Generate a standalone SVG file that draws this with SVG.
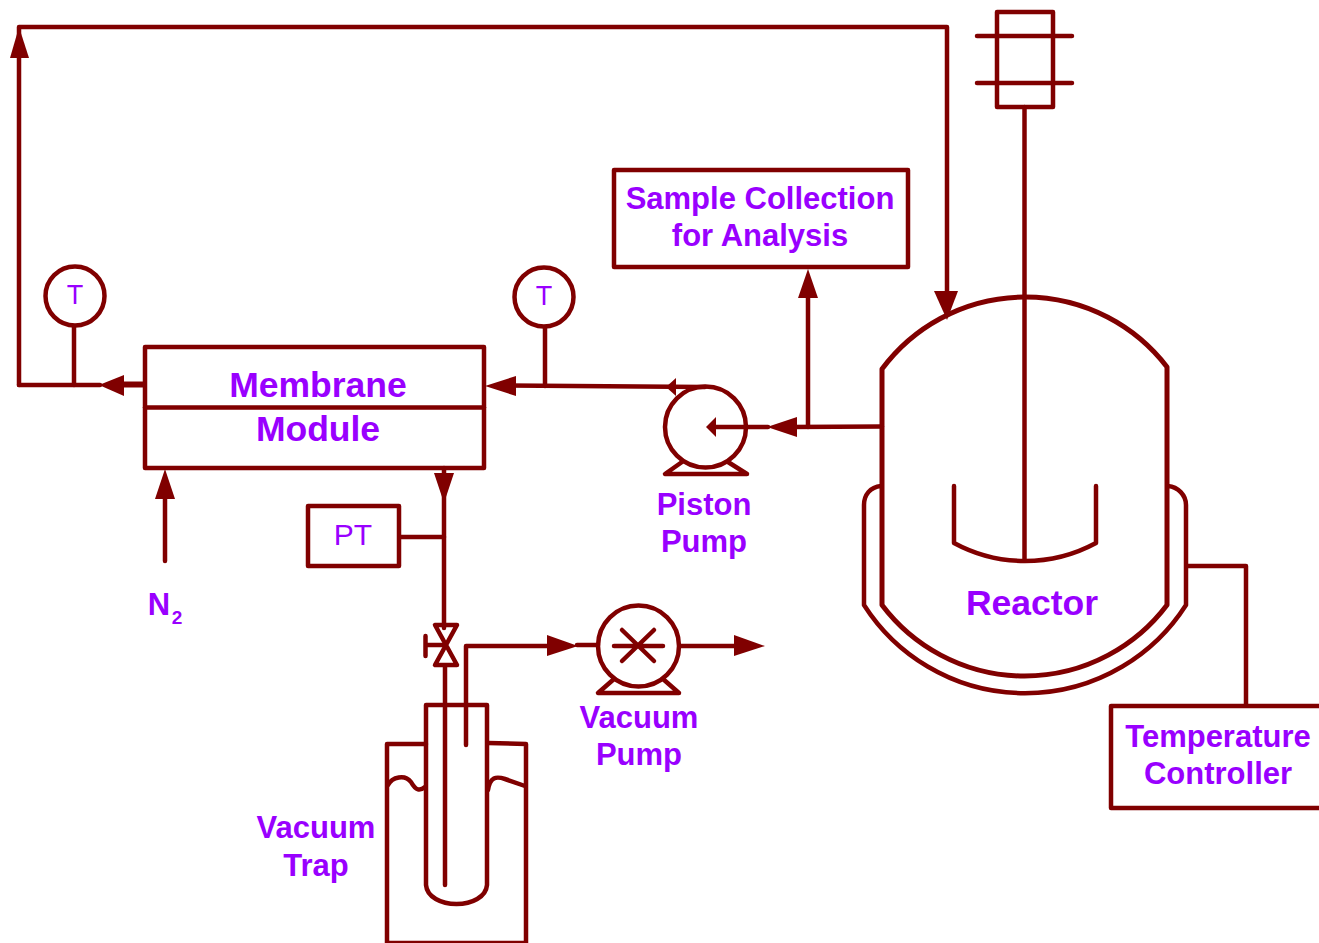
<svg xmlns="http://www.w3.org/2000/svg" width="1319" height="943" viewBox="0 0 1319 943">
<style>
.s{fill:none;stroke:#800000;stroke-width:4.5;stroke-linecap:round;stroke-linejoin:round}
.a{fill:#800000;stroke:none}
.l{font-family:"Liberation Sans",Arial,sans-serif;font-weight:bold;fill:#9900ff;font-size:31px;text-anchor:middle}
.m{font-size:35.500px}
.t{font-family:"Liberation Sans",Arial,sans-serif;fill:#9900ff;font-size:27px;text-anchor:middle}
</style>
<rect width="1319" height="943" fill="#fff"/>
<g id="connectors">
<path class="s" d="M19 385V27H947V300"/>
<path class="s" d="M19 385H100"/>
<path class="s" style="stroke-width:6;stroke-linecap:butt" d="M122 384.500H144"/>
<path class="s" d="M74 326V385"/>
<path class="s" d="M505 385.500L705 387"/>
<path class="s" d="M545 327V386"/>
<path class="s" d="M710 427H768M790 427L882 426.500"/>
<path class="s" d="M808 427V290"/>
<path class="s" d="M165 495V561"/>
<path class="s" d="M444 468V628M445 666V885"/>
<path class="s" d="M400 537H444"/>
<path class="s" d="M466 745V646H550"/>
<path class="s" d="M577 645H598M680 646H736"/>
<path class="s" d="M1187 566H1246V705"/>
<polygon class="a" points="10,58 29,58 19,27"/>
<polygon class="a" points="934,291 958,291 947,320"/>
<polygon class="a" points="99,385 124,375 124,396"/>
<polygon class="a" points="485,386 516,376 516,396"/>
<polygon class="a" points="666,387 676,378 676,396"/>
<polygon class="a" points="706,427 716,417 716,437"/>
<polygon class="a" points="767,427 797,417 797,437"/>
<polygon class="a" points="808,269 798,298 818,298"/>
<polygon class="a" points="165,469 155,499 175,499"/>
<polygon class="a" points="444,503 434,473 454,473"/>
<polygon class="a" points="578,646 547,635 547,656"/>
<polygon class="a" points="765,646 734,635 734,656"/>
</g>
<g id="t-left"><circle class="s" cx="75" cy="296" r="29.500"/><text class="t" x="75" y="304">T</text></g>
<g id="t-right"><circle class="s" cx="544" cy="297" r="29.500"/><text class="t" x="544" y="305">T</text></g>
<g id="membrane-module">
<rect class="s" x="145" y="347" width="339" height="121"/>
<path class="s" d="M145 407.500H484"/>
<text class="l m" x="318" y="397">Membrane</text>
<text class="l m" x="318" y="441">Module</text>
</g>
<g id="n2"><text class="l" x="159" y="615">N</text><text class="l" x="177" y="624" style="font-size:19px">2</text></g>
<g id="sample"><rect class="s" x="614" y="170" width="294" height="97"/>
<text class="l" x="760" y="209">Sample Collection</text>
<text class="l" x="760" y="246">for Analysis</text></g>
<g id="piston-pump">
<circle class="s" cx="705.500" cy="427" r="40.500"/>
<path class="s" d="M682 462L665 474H747L728 462"/>
<text class="l" x="704" y="515">Piston</text>
<text class="l" x="704" y="552">Pump</text>
</g>
<g id="pt"><rect class="s" x="308" y="506" width="91" height="60"/><text class="t" x="353" y="545" style="font-size:30px">PT</text></g>
<g id="valve">
<path class="s" d="M435 625H457L435 665H457Z"/>
<path class="s" d="M445 645H426M425.500 636V656"/>
</g>
<g id="vacuum-pump">
<circle class="s" cx="638.500" cy="646" r="40.500"/>
<path class="s" d="M614 679L598 693H679L663 679"/>
<path class="s" d="M614 646H663M622 630L654 661M654 630L622 661"/>
<text class="l" x="639" y="728">Vacuum</text>
<text class="l" x="639" y="765">Pump</text>
</g>
<g id="vacuum-trap">
<path class="s" d="M426 744H387V943H526V744L488 743"/>
<path class="s" d="M426 885V705H487V885C486 897 472 904 456.500 904C441 904 427 897 426 885Z"/>
<path class="s" d="M388 785C392 777 405 774 411 782C416 791 420 791 425 787"/>
<path class="s" d="M488 790C490 777 496 776 505 779L525 786"/>
<text class="l" x="316" y="838">Vacuum</text>
<text class="l" x="316" y="876">Trap</text>
</g>
<g id="agitator">
<rect class="s" x="997" y="12" width="56" height="95"/>
<path class="s" d="M977 36H1072M977 83H1072"/>
<path class="s" d="M1024.500 107V560"/>
<path class="s" d="M954 486V543A149 149 0 0 0 1096 543V486"/>
</g>
<g id="reactor">
<path class="s" style="stroke-width:5" d="M882 369A178.500 178.500 0 0 1 1167 367V605A178.500 178.500 0 0 1 882 605Z"/>
<path class="s" d="M881 486C870 487 864 495 864 505V605A191 191 0 0 0 1186 605V505C1186 495 1178 487 1168 486"/>
<text class="l m" x="1032" y="615">Reactor</text>
</g>
<g id="temperature-controller">
<path class="s" d="M1319 706H1111V808H1319"/>
<text class="l" x="1218" y="747">Temperature</text>
<text class="l" x="1218" y="784">Controller</text>
</g>
</svg>
